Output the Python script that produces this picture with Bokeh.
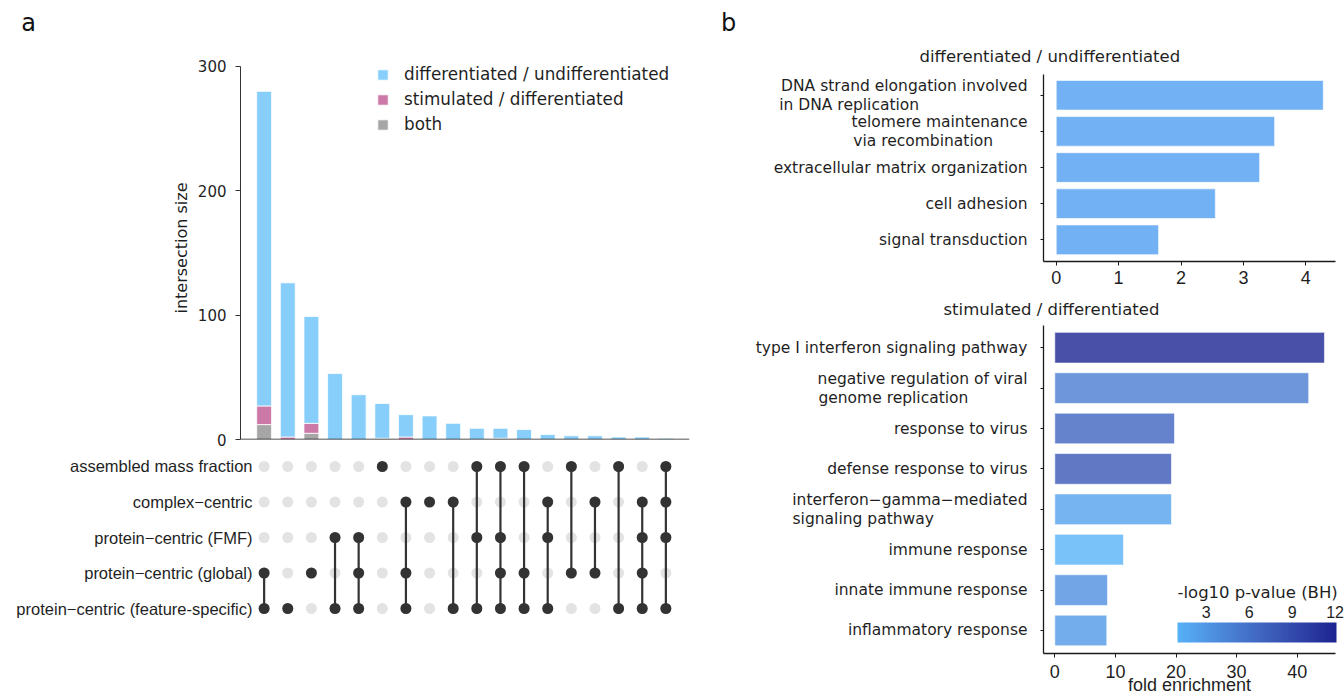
import numpy as np
from bokeh.plotting import figure
from bokeh.layouts import row, column
from bokeh.models import (Range1d, FixedTicker, Legend, LegendItem, Span, Title,
                          ColorBar, LinearColorMapper, ColumnDataSource)
from bokeh.core.properties import value
from bokeh.embed import file_html
from bokeh.resources import INLINE

# ---------------- data: panel a (UpSet) ----------------
set_names = ["assembled mass fraction", "complex\u2212centric", "protein\u2212centric (FMF)",
             "protein\u2212centric (global)", "protein\u2212centric (feature-specific)"]
set_codes = ["A", "C", "F", "G", "S"]
intersections = ["GS", "S", "G", "FS", "FGS", "A", "CGS", "C", "CS", "AFS",
                 "AFGS", "AGS", "CFS", "AG", "CG", "AS", "CFGS", "ACFS"]
diff_only = [253, 124, 86, 53, 36, 28, 18, 19, 13, 9, 8, 8, 4, 3, 3, 2, 2, 1]
stim_only = [15, 2, 8, 0, 0, 0, 2, 0, 0, 0, 0, 0, 0, 0, 0, 0, 0, 0]
both_cond = [12, 0, 5, 0, 0, 1, 0, 0, 0, 0, 1, 0, 0, 0, 0, 0, 0, 0]
legend_labels = ["differentiated / undifferentiated", "stimulated / differentiated", "both"]
y_ticks_a = [0, 100, 200, 300]
y_label_a = "intersection size"
panel_letters = ["a", "b"]

# ---------------- data: panel b (GO enrichment) ----------------
title_top = "differentiated / undifferentiated"
terms_top = ["DNA strand elongation involved\nin DNA replication",
             "telomere maintenance\nvia recombination",
             "extracellular matrix organization",
             "cell adhesion",
             "signal transduction"]
fold_top = [4.28, 3.50, 3.26, 2.55, 1.64]
x_ticks_top = [0, 1, 2, 3, 4]

title_bottom = "stimulated / differentiated"
terms_bottom = ["type I interferon signaling pathway",
                "negative regulation of viral\ngenome replication",
                "response to virus",
                "defense response to virus",
                "interferon\u2212gamma\u2212mediated\nsignaling pathway",
                "immune response",
                "innate immune response",
                "inflammatory response"]
fold_bottom = [44.5, 41.9, 19.75, 19.25, 19.25, 11.33, 8.7, 8.58]
pval_bottom = [12.1, 5.0, 6.9, 8.0, 2.2, 1.0, 3.6, 2.8]
x_ticks_bottom = [0, 10, 20, 30, 40]
cbar_ticks = [3, 6, 9, 12]
cbar_title = "-log10 p-value (BH)"
x_label_bottom = "fold enrichment"

# ---------------- styles ----------------
BLUE, PINK, GRAY = "#87CEFA", "#CC79A7", "#A6A6A6"
DARK, LIGHT = "#333333", "#E3E3E3"
TXT = "#1f1f1f"
VER = "DejaVu Sans"
ARI = "Liberation Sans"
# non-breaking-space padding so that wrapped second lines start under the first line
PAD_TOP = {0: 22, 1: 7}
PAD_BOTTOM = {1: 12, 4: 19}

# Lab-space gradient (like ggplot's scale_fill_gradient)
M = np.array([[0.4124564, 0.3575761, 0.1804375],
              [0.2126729, 0.7151522, 0.0721750],
              [0.0193339, 0.1191920, 0.9503041]])
WP = np.array([0.95047, 1.0, 1.08883])


def hex_to_lab(h):
    rgb = np.array([int(h[i:i + 2], 16) for i in (1, 3, 5)]) / 255.0
    lin = np.where(rgb <= 0.04045, rgb / 12.92, ((rgb + 0.055) / 1.055) ** 2.4)
    t = (M @ lin) / WP
    d = 6 / 29
    f = np.where(t > d ** 3, np.cbrt(t), t / (3 * d * d) + 4 / 29)
    return np.array([116 * f[1] - 16, 500 * (f[0] - f[1]), 200 * (f[1] - f[2])])


def lab_to_hex(lab):
    L, a, b = lab
    fy = (L + 16) / 116
    f = np.array([fy + a / 500, fy, fy - b / 200])
    d = 6 / 29
    t = np.where(f > d, f ** 3, 3 * d * d * (f - 4 / 29))
    lin = np.clip(np.linalg.solve(M, t * WP), 0, 1)
    c = np.where(lin <= 0.0031308, 12.92 * lin, 1.055 * lin ** (1 / 2.4) - 0.055)
    c = np.clip(np.round(c * 255), 0, 255).astype(int)
    return "#%02x%02x%02x" % tuple(c)


lo, hi = hex_to_lab("#56B1F7"), hex_to_lab("#1C2491")
palette = [lab_to_hex(lo + (hi - lo) * k / 255) for k in range(256)]


def pad_label(text, n):
    return text + "\u00a0" * n if n else text


def base_fig(**kw):
    p = figure(output_backend="svg", toolbar_location=None, title_location=None, **kw)
    p.grid.visible = False
    p.outline_line_color = None
    p.background_fill_color = "white"
    p.border_fill_color = "white"
    return p


def title(text, offset, standoff, size="16.5px"):
    return Title(text=text, align="left", offset=offset, standoff=standoff,
                 text_font=VER, text_font_size=size, text_font_style="normal",
                 text_color=TXT)


STRIP_H = 36

# ================= header strip with panel letters =================
ps = base_fig(width=1344, height=STRIP_H, x_range=Range1d(0, 1344), y_range=Range1d(STRIP_H, 0),
              min_border=0, x_axis_location=None, y_axis_location=None)
ps.text(x=[28, 728], y=[22.5, 22.5], text=panel_letters, text_font=value(VER),
        text_font_size="24px", text_align="center", text_baseline="middle",
        text_color="#111111")

# ================= panel a : bars =================
cols = list(range(1, len(intersections) + 1))
pa = base_fig(width=708, height=451 - STRIP_H, x_range=Range1d(0, 19), y_range=Range1d(0, 308.04),
              min_border_left=240, min_border_right=19, min_border_top=56 - STRIP_H,
              min_border_bottom=12, x_axis_location=None)
src_a = ColumnDataSource(dict(x=cols, both=both_cond, stim=stim_only, diff=diff_only))
stack = pa.vbar_stack(["both", "stim", "diff"], x="x", width=0.63, source=src_a,
                      fill_color=[GRAY, PINK, BLUE], line_color="white", line_width=0.8)
pa.add_layout(Span(location=0, dimension="width", line_color="#1a1a1a", line_width=1.5))
ya = pa.yaxis[0]
ya.ticker = FixedTicker(ticks=y_ticks_a)
ya.bounds = (y_ticks_a[0], y_ticks_a[-1])
ya.major_tick_out = 5
ya.major_tick_in = 0
ya.minor_tick_line_color = None
ya.axis_line_color = "#333333"
ya.major_tick_line_color = "#333333"
ya.major_label_text_font = VER
ya.major_label_text_font_size = "15px"
ya.major_label_text_color = TXT
ya.major_label_standoff = 9
ya.axis_label = y_label_a
ya.axis_label_text_font = VER
ya.axis_label_text_font_size = "16px"
ya.axis_label_text_font_style = "normal"
ya.axis_label_text_color = TXT
ya.axis_label_standoff = 4

legend = Legend(items=[LegendItem(label=legend_labels[0], renderers=[stack[2]]),
                       LegendItem(label=legend_labels[1], renderers=[stack[1]]),
                       LegendItem(label=legend_labels[2], renderers=[stack[0]])],
                location=(136, 305), orientation="vertical", padding=0, margin=0,
                spacing=5, glyph_width=13, glyph_height=13, label_standoff=15,
                label_height=20, label_text_font=VER, label_text_font_size="16.8px",
                label_text_color=TXT, border_line_color=None, background_fill_alpha=0)
pa.add_layout(legend)

# ================= panel a : matrix =================
pm = base_fig(width=708, height=185, x_range=Range1d(0, 19), y_range=Range1d(0.4930, 5.4225),
              min_border_left=240, min_border_right=19, min_border_top=0,
              min_border_bottom=10, x_axis_location=None)
row_y = {code: len(set_codes) - i for i, code in enumerate(set_codes)}
gx, gy = [], []
for c in cols:
    for code in set_codes:
        gx.append(c)
        gy.append(row_y[code])
pm.scatter(gx, gy, size=11, fill_color=LIGHT, line_color=None)
sx0, sy0, sy1, dx, dy = [], [], [], [], []
for c, inter in zip(cols, intersections):
    ys = [row_y[k] for k in inter]
    if len(ys) > 1:
        sx0.append(c)
        sy0.append(min(ys))
        sy1.append(max(ys))
    dx += [c] * len(ys)
    dy += ys
pm.segment(x0=sx0, y0=sy0, x1=sx0, y1=sy1, line_color=DARK, line_width=2.2)
pm.scatter(dx, dy, size=11, fill_color=DARK, line_color=None)
ym = pm.yaxis[0]
ym.ticker = FixedTicker(ticks=sorted(row_y.values()))
ym.major_label_overrides = {row_y[c]: n for c, n in zip(set_codes, set_names)}
ym.axis_line_color = None
ym.major_tick_line_color = None
ym.minor_tick_line_color = None
ym.major_tick_out = 0
ym.major_tick_in = 0
ym.major_label_standoff = -12
ym.major_label_text_font = ARI
ym.major_label_text_font_size = "16.5px"
ym.major_label_text_color = TXT


def style_b(p, xticks, xstand):
    xa, yb = p.xaxis[0], p.yaxis[0]
    for ax in (xa, yb):
        ax.axis_line_color = "#1a1a1a"
        ax.axis_line_width = 1.3
        ax.major_tick_line_color = "#1a1a1a"
        ax.minor_tick_line_color = None
        ax.major_tick_in = 0
    xa.ticker = FixedTicker(ticks=xticks)
    xa.major_tick_out = 4
    xa.major_label_text_font = ARI
    xa.major_label_text_font_size = "18px"
    xa.major_label_text_color = TXT
    xa.major_label_standoff = xstand
    yb.major_tick_out = 3
    yb.major_label_text_font = VER
    yb.major_label_text_font_size = "15.5px"
    yb.major_label_text_color = TXT
    yb.major_label_text_line_height = 1.05
    yb.major_label_standoff = 13


def wrapped(terms, pads):
    out = []
    for i, t in enumerate(terms):
        parts = t.split("\n")
        if len(parts) == 2:
            parts[1] = pad_label(parts[1], pads.get(i, 0))
        out.append("\n".join(parts))
    return out


# ================= panel b : top =================
n_t = len(terms_top)
yt = [n_t - i for i in range(n_t)]
pt = base_fig(width=636, height=290 - STRIP_H, x_range=Range1d(-0.204, 4.476),
              y_range=Range1d(0.40, 5.574), min_border_left=335, min_border_right=9,
              min_border_top=72 - STRIP_H, min_border_bottom=29)
pt.hbar(y=yt, left=0, right=fold_top, height=0.82, fill_color="#4F9EF0", fill_alpha=0.8,
        line_color="white", line_alpha=0.6, line_width=1)
style_b(pt, x_ticks_top, 5)
pt.yaxis[0].ticker = FixedTicker(ticks=yt)
pt.yaxis[0].major_label_overrides = {y: t for y, t in zip(yt, wrapped(terms_top, PAD_TOP))}
pt.add_layout(title(title_top, -124, 16.5), "above")

# ================= panel b : bottom =================
n_b = len(terms_bottom)
ybv = [n_b - i for i in range(n_b)]
mapper = LinearColorMapper(palette=palette, low=1.0, high=12.1)
src_b = ColumnDataSource(dict(y=ybv, fold=fold_bottom, pval=pval_bottom))
pb = base_fig(width=636, height=410, x_range=Range1d(-1.865, 46.32), y_range=Range1d(0.43, 8.55),
              min_border_left=335, min_border_right=9, min_border_top=33, min_border_bottom=47)
pb.hbar(y="y", left=0, right="fold", height=0.76, source=src_b,
        fill_color={"field": "pval", "transform": mapper}, fill_alpha=0.8,
        line_color="white", line_alpha=0.6, line_width=1)
style_b(pb, x_ticks_bottom, 7)
pb.yaxis[0].ticker = FixedTicker(ticks=ybv)
pb.yaxis[0].major_label_overrides = {y: t for y, t in zip(ybv, wrapped(terms_bottom, PAD_BOTTOM))}
pb.xaxis[0].axis_label = x_label_bottom
pb.xaxis[0].axis_label_text_font = ARI
pb.xaxis[0].axis_label_text_font_size = "18px"
pb.xaxis[0].axis_label_text_font_style = "normal"
pb.xaxis[0].axis_label_text_color = TXT
pb.xaxis[0].axis_label_standoff = -6
pb.add_layout(title(title_bottom, -100, 14), "above")

cb_bar = ColorBar(color_mapper=mapper, orientation="horizontal", location=(134, 11),
                  width=159, height=20, ticker=FixedTicker(ticks=[]), label_standoff=0,
                  major_tick_line_color=None, bar_line_color=None, padding=0, margin=0,
                  title=None, background_fill_alpha=0, border_line_color=None)
cb_lab = ColorBar(color_mapper=mapper, orientation="horizontal", location=(134, 33),
                  width=159, height=1, scale_alpha=0, ticker=FixedTicker(ticks=cbar_ticks),
                  major_label_text_font=ARI, major_label_text_font_size="16px",
                  major_label_text_color=TXT, label_standoff=0,
                  major_tick_line_color=None, bar_line_color=None, padding=0, margin=0,
                  title=cbar_title, title_text_font=VER, title_text_font_size="16.5px",
                  title_text_font_style="normal", title_text_color=TXT, title_standoff=5,
                  background_fill_alpha=0, border_line_color=None)
pb.add_layout(cb_bar)
pb.add_layout(cb_lab)

layout = column(ps, row(column(pa, pm), column(pt, pb)))
open("out.html", "w").write(file_html(layout, INLINE))
